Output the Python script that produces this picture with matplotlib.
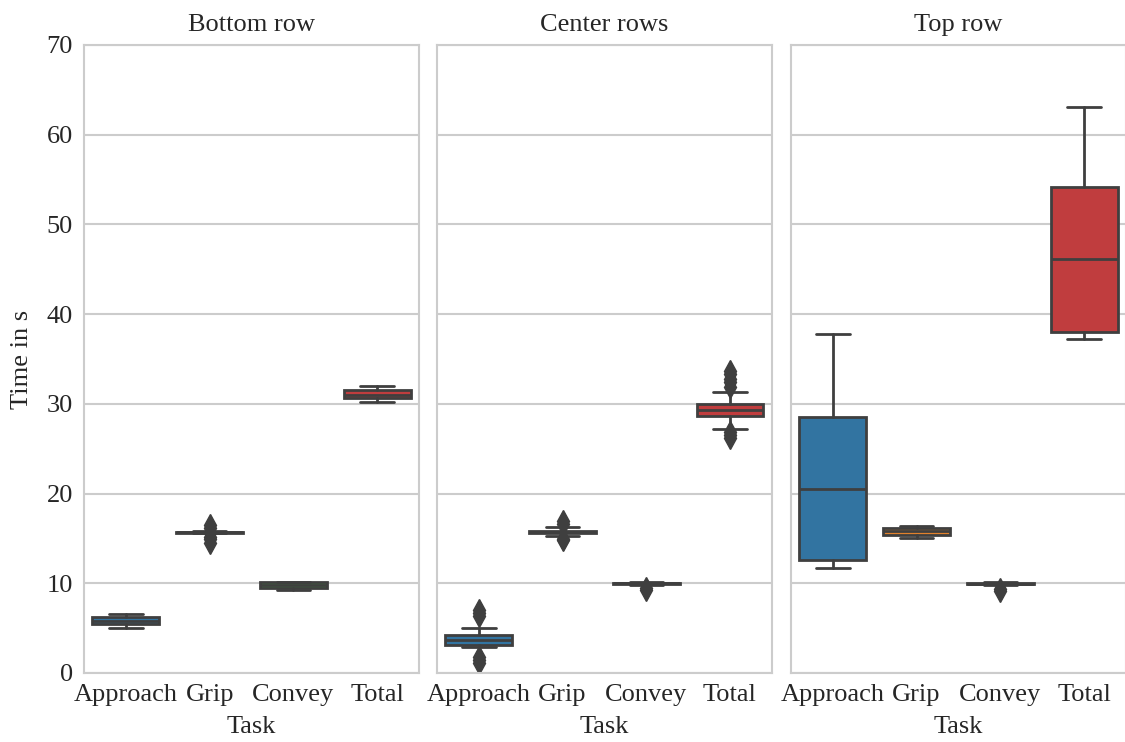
import matplotlib
matplotlib.use("Agg")
import matplotlib.pyplot as plt
import seaborn as sns

sns.set_theme(style="whitegrid")
plt.rcParams['font.family'] = ['Liberation Serif', 'DejaVu Serif']

tasks = ["Approach", "Grip", "Convey", "Total"]
panels = ["Bottom row", "Center rows", "Top row"]
box_colors = ["#3274a1", "#e1812c", "#3a923a", "#c03d3e"]
line_color = "#3f3f3f"

# Box statistics per panel: lists in order of tasks
bottom_q1 = [5.5, 15.6, 9.45, 30.65]
bottom_med = [5.85, 15.7, 9.8, 31.0]
bottom_q3 = [6.2, 15.75, 10.1, 31.55]
bottom_lo = [5.0, 15.55, 9.3, 30.2]
bottom_hi = [6.55, 15.85, 10.1, 32.0]
bottom_fliers = [[], [16.5, 16.2, 15.2, 14.9, 14.5], [], []]

center_q1 = [3.1, 15.55, 9.95, 28.7]
center_med = [3.7, 15.7, 10.0, 29.35]
center_q3 = [4.25, 15.85, 10.05, 30.0]
center_lo = [2.9, 15.3, 9.85, 27.2]
center_hi = [5.0, 16.3, 10.1, 31.3]
center_fliers = [[7.0, 6.7, 6.3, 1.8, 1.4, 1.1], [16.9, 16.6, 14.9, 14.8],
                 [9.2, 9.5], [33.7, 33.3, 32.8, 32.4, 31.9, 26.9, 26.5, 26.2]]

top_q1 = [12.6, 15.4, 9.9, 38.0]
top_med = [20.5, 15.85, 9.95, 46.15]
top_q3 = [28.5, 16.15, 10.05, 54.2]
top_lo = [11.7, 15.1, 9.8, 37.2]
top_hi = [37.8, 16.4, 10.15, 63.1]
top_fliers = [[], [], [9.1, 9.4], []]

panel_stats = [
    (bottom_q1, bottom_med, bottom_q3, bottom_lo, bottom_hi, bottom_fliers),
    (center_q1, center_med, center_q3, center_lo, center_hi, center_fliers),
    (top_q1, top_med, top_q3, top_lo, top_hi, top_fliers),
]

fig = plt.figure(figsize=(11.25, 7.42), dpi=100)
lefts = [0.0747, 0.3884, 0.7031]
width = 0.2977
bottom = 0.093
height = 0.8464
fs = 19

axes = []
for i, (title, st) in enumerate(zip(panels, panel_stats)):
    ax = fig.add_axes([lefts[i], bottom, width, height], sharey=axes[0] if axes else None)
    axes.append(ax)
    q1, med, q3, lo, hi, fl = st
    stats = []
    for j in range(len(tasks)):
        stats.append(dict(q1=q1[j], med=med[j], q3=q3[j], whislo=lo[j], whishi=hi[j],
                          fliers=fl[j], label=tasks[j]))
    bp = ax.bxp(stats, positions=range(len(tasks)), widths=0.8, patch_artist=True,
                showfliers=True,
                boxprops=dict(edgecolor=line_color, linewidth=2.0),
                medianprops=dict(color=line_color, linewidth=2.0),
                whiskerprops=dict(color=line_color, linewidth=2.0),
                capprops=dict(color=line_color, linewidth=2.0),
                flierprops=dict(marker='d', markersize=11, markerfacecolor=line_color,
                                markeredgecolor=line_color, linestyle='none'),
                capwidths=0.4)
    for patch, c in zip(bp['boxes'], box_colors):
        patch.set_facecolor(c)
    ax.set_xlim(-0.5, 3.5)
    ax.set_ylim(0, 70)
    ax.set_yticks(range(0, 71, 10))
    ax.set_xticks(range(len(tasks)))
    ax.set_xticklabels(tasks)
    ax.xaxis.grid(False)
    ax.yaxis.grid(True, color="#cccccc", linewidth=1.5)
    ax.set_axisbelow(True)
    for sp in ax.spines.values():
        sp.set_color("#cccccc")
        sp.set_linewidth(1.5)
    ax.tick_params(axis='both', labelsize=fs, length=0, colors="#262626")
    ax.tick_params(axis='x', pad=8)
    ax.tick_params(axis='y', pad=8)
    ax.set_title(title, fontsize=fs, color="#262626", pad=10)
    ax.set_xlabel("Task", fontsize=fs, color="#262626", labelpad=7)
    if i == 0:
        ax.set_ylabel("Time in s", fontsize=fs, color="#262626", labelpad=10)
    else:
        plt.setp(ax.get_yticklabels(), visible=False)

fig.savefig("out.png", dpi=100)
